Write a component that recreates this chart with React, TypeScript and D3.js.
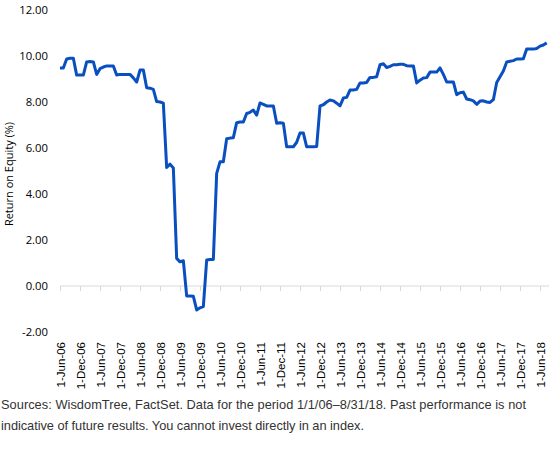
import { useEffect, useRef } from 'react';
import * as d3 from 'd3';

// monthly return on equity, Jun-06 .. Aug-18
const roeValues = [
  9.48, 9.48, 9.87, 9.9, 9.9, 9.17, 9.17, 9.17, 9.74, 9.76,
  9.74, 9.2, 9.45, 9.52, 9.57, 9.57, 9.57, 9.17, 9.2, 9.2,
  9.2, 9.2, 9.05, 8.87, 9.39, 9.39, 8.62, 8.6, 8.55, 8.02,
  8.0, 7.95, 5.15, 5.3, 5.13, 1.2, 1.05, 1.1, -0.43, -0.43,
  -0.45, -1.04, -0.95, -0.9, 1.13, 1.15, 1.15, 4.9, 5.4, 5.4,
  6.4, 6.43, 6.45, 7.1, 7.13, 7.13, 7.5, 7.55, 7.65, 7.43,
  7.96, 7.9, 7.83, 7.83, 7.83, 7.08, 7.1, 7.08, 6.05, 6.05,
  6.05, 6.25, 6.65, 6.65, 6.05, 6.05, 6.05, 6.07, 7.83, 7.88,
  8.0, 8.09, 8.05, 7.95, 7.83, 8.17, 8.2, 8.52, 8.52, 8.55,
  8.83, 8.83, 8.85, 9.07, 9.07, 9.1, 9.62, 9.66, 9.5, 9.55,
  9.62, 9.62, 9.64, 9.64, 9.58, 9.57, 9.57, 8.83, 8.95, 9.04,
  9.06, 9.3, 9.3, 9.3, 9.48, 9.2, 8.87, 8.87, 8.87, 8.32,
  8.4, 8.43, 8.13, 8.1, 8.05, 7.9, 8.04, 8.05, 8.0, 7.98,
  8.1, 8.85, 9.1, 9.35, 9.74, 9.77, 9.8, 9.87, 9.87, 9.88,
  10.3, 10.3, 10.3, 10.33, 10.43, 10.48, 10.57,
];

const xTickLabels = [
  '1-Jun-06', '1-Dec-06', '1-Jun-07', '1-Dec-07', '1-Jun-08', '1-Dec-08',
  '1-Jun-09', '1-Dec-09', '1-Jun-10', '1-Dec-10', '1-Jun-11', '1-Dec-11',
  '1-Jun-12', '1-Dec-12', '1-Jun-13', '1-Dec-13', '1-Jun-14', '1-Dec-14',
  '1-Jun-15', '1-Dec-15', '1-Jun-16', '1-Dec-16', '1-Jun-17', '1-Dec-17',
  '1-Jun-18',
];

const yTicks = [-2, 0, 2, 4, 6, 8, 10, 12];

const footerLines = [
  'Sources: WisdomTree, FactSet. Data for the period 1/1/06\u20138/31/18. Past performance is not',
  'indicative of future results. You cannot invest directly in an index.',
];
const footerWidths = [525, 363];

const App = () => {
  const ref = useRef<SVGSVGElement>(null);

  useEffect(() => {
    const svg = d3.select(ref.current);
    svg.selectAll('*').remove();

    const x = d3.scaleLinear().domain([0, 146]).range([60, 546.7]);
    const y = d3.scaleLinear().domain([-2, 12]).range([332, 10]);

    // x axis (at zero)
    const axisG = svg.append('g');
    axisG.append('line')
      .attr('x1', x(0)).attr('x2', 549)
      .attr('y1', y(0)).attr('y2', y(0))
      .attr('stroke', '#d9d9d9')
      .attr('stroke-width', 1);

    xTickLabels.forEach((lbl, k) => {
      const tx = Math.round(x(k * 6)) + 0.5;
      axisG.append('line')
        .attr('x1', tx).attr('x2', tx)
        .attr('y1', y(0)).attr('y2', y(0) + 5)
        .attr('stroke', '#d9d9d9');
      axisG.append('text')
        .attr('transform', `translate(${tx + 4},342) rotate(-90)`)
        .attr('text-anchor', 'end')
        .attr('font-family', '"Liberation Sans", Arial, sans-serif')
        .attr('font-size', '11.5px')
        .attr('fill', '#000')
        .text(lbl);
    });

    // y tick labels
    svg.append('g')
      .selectAll('text')
      .data(yTicks)
      .join('text')
      .attr('x', 48)
      .attr('y', d => y(d))
      .attr('dy', '0.35em')
      .attr('text-anchor', 'end')
      .attr('font-family', '"Open Sans", sans-serif')
      .attr('font-size', '11.3px')
      .attr('fill', '#000')
      .text(d => d.toFixed(2));

    svg.append('text')
      .attr('transform', `translate(13,${y(5) + 3}) rotate(-90)`)
      .attr('text-anchor', 'middle')
      .attr('font-family', '"Open Sans", sans-serif')
      .attr('font-size', '11px')
      .attr('fill', '#000')
      .text('Return on Equity (%)');

    const line = d3.line<number>()
      .x((_, i) => x(i))
      .y(d => y(d));

    svg.append('path')
      .datum(roeValues)
      .attr('d', line)
      .attr('fill', 'none')
      .attr('stroke', '#0a4fc0')
      .attr('stroke-width', 3)
      .attr('stroke-linejoin', 'round');

    svg.append('g')
      .selectAll('text')
      .data(footerLines)
      .join('text')
      .attr('x', 1)
      .attr('y', (_, i) => 409 + i * 21)
      .attr('font-family', '"Liberation Sans", Arial, sans-serif')
      .attr('font-size', '12.8px')
      .attr('fill', '#333')
      .attr('textLength', (_, i) => footerWidths[i])
      .attr('lengthAdjust', 'spacing')
      .text(d => d);
  }, []);

  return (
    <div style={{ position: 'absolute', left: 0, top: 0 }}>
      <svg ref={ref} width={558} height={449} style={{ display: 'block', background: '#fff' }} />
    </div>
  );
};

export default App;
